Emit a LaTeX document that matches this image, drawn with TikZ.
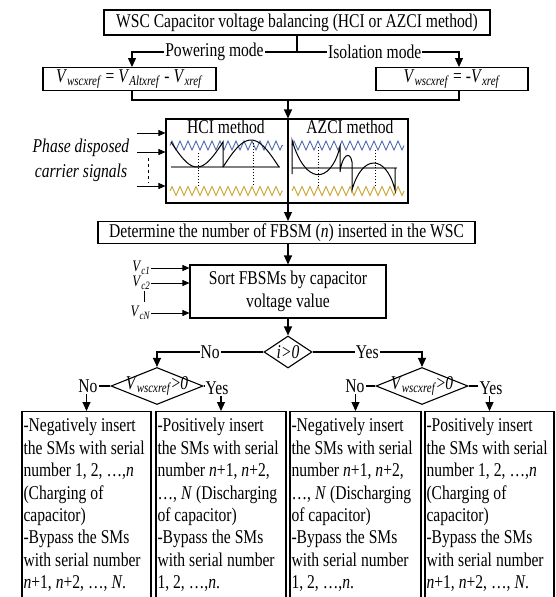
\documentclass[tikz,border=0pt]{standalone}
\usepackage{fontspec}
\setmainfont[FakeStretch=0.8]{Liberation Serif}
\usetikzlibrary{arrows.meta,shapes.geometric,decorations.pathmorphing}
\definecolor{carblue}{RGB}{75,105,170}
\definecolor{cargold}{RGB}{200,160,40}
\newcommand{\Vsub}[1]{\textit{V}\textsubscript{\textit{#1}}}
\newcommand{\boxfont}{\fontsize{19.5}{22.4}\selectfont\hyphenpenalty 10000\relax}
\newcommand{\tight}{\spaceskip 4pt plus 1pt minus 1pt\relax}
\begin{document}
\begin{tikzpicture}[x=1pt,y=-1pt,>={Triangle[length=9pt,width=8pt]},line width=1.1pt,
    font=\boxfont,
    blk/.style={draw,inner sep=2pt,align=center},
    txtbox/.style={draw,inner xsep=1.5pt,inner ysep=2pt,align=left,text width=#1,anchor=north,minimum height=187},
    dec/.style={draw,diamond,inner sep=0pt},
    lbl/.style={fill=white,inner sep=1pt},
    tri/.style={decorate,decoration={zigzag,segment length=8pt,amplitude=4.5pt},line width=0.9pt},
    small/.style={->,line width=0.9pt,>={Triangle[length=7pt,width=6pt]}},
    vin/.style={anchor=east,inner sep=0pt,font=\fontsize{16}{16}\selectfont}]
\useasboundingbox (0,0) rectangle (556,597);
% top and mode boxes
\node[blk,minimum width=386,minimum height=25] (top) at (297,22.5) {WSC Capacitor voltage balancing (HCI or AZCI method)};
\coordinate (spl) at (297,52);
\coordinate (pm) at (132,52);
\coordinate (iso) at (459,52);
\node[blk,minimum width=173,minimum height=22] (lbox) at (129.5,79) {\Vsub{wscxref} = \Vsub{Altxref} - \Vsub{xref}};
\node[blk,minimum width=152,minimum height=22] (rbox) at (452,79) {\Vsub{wscxref} = -\Vsub{xref}};
\draw (top.south) -- (spl);
\draw[->] (spl) -- node[lbl] {Powering mode} (pm) -- (pm |- lbox.north);
\draw[->] (spl) -- node[lbl,pos=0.48] {Isolation mode} (iso) -- (iso |- rbox.north);
\coordinate (ml) at (132,100);
\coordinate (mr) at (459,100);
\coordinate (mc) at (288,100);
\draw (ml |- lbox.south) -- (ml) -- (mr) -- (mr |- rbox.south);
% carrier signals
\node[draw,minimum width=242,minimum height=84,inner sep=0pt] (car) at (287,161) {};
\node (hci) at (226,127) {HCI method};
\node (azci) at (350,127) {AZCI method};
\draw[carblue,tri] (170,145.5) -- (283,145.5);
\draw[carblue,tri] (292,145.5) -- (404,145.5);
\draw[cargold,tri] (170,191) -- (283,191);
\draw[cargold,tri] (292,191) -- (404,191);
\draw[gray,line width=1.6pt] (171,167) -- (280,167);
\draw[gray,line width=1.6pt] (292,168) -- (397,168);
\draw[line width=1pt] plot[domain=0:180,samples=30] ({171+52*\x/180},{142+25*sin(\x)}) -- (223,167);
\draw[line width=1pt] plot[domain=0:180,samples=30] ({223+56*\x/180},{167-27*sin(\x)});
\draw[line width=1pt] (292,174) -- (292,140) .. controls (305,185) and (330,185) .. (340,147) -- (340,172)
    .. controls (342,155) and (350,150) .. (352,162) -- (352,190) .. controls (362,154) and (386,154) .. (395,190) -- (395,168);
\foreach \xd/\yd in {198/153,253/143,318/147,375/150}
    \draw[dotted,line width=0.9pt] (\xd,\yd) -- (\xd,186);
\draw[->] (mc) -- (mc |- car.north);
\node[align=center,font=\itshape\fontsize{19.5}{25}\selectfont] (pd) at (81,160) {Phase disposed\\carrier signals};
\foreach \ya in {133,152,186} {
    \coordinate (ca) at (137,\ya);
    \draw[small] (ca) -- (ca -| car.west);
}
\draw[dashed,line width=0.9pt] (148,158) -- (148,183);
% determine and sort
\node[blk,minimum width=377,minimum height=21] (det) at (286.5,232.5) {Determine the number of FBSM (\textit{n}) inserted in the WSC};
\draw[->] (mc |- car.north) -- (mc |- det.north);
\node[blk,minimum width=196,minimum height=53] (sort) at (288,291.5) {Sort FBSMs by capacitor\\voltage value};
\draw[->] (det.south -| mc) -- (sort.north -| mc);
\node[vin] (vc1) at (151,268) {\Vsub{c1}};
\node[vin] (vc2) at (151,283) {\Vsub{c2}};
\node[vin] (vcn) at (151,313) {\Vsub{cN}};
\foreach \v in {vc1,vc2,vcn}
    \draw[small] (\v.east) -- (\v.east -| sort.west);
\draw[line width=0.8pt] (144,291) -- (144,302);
% decisions
\node[dec,minimum width=48,minimum height=32,label=center:{\textit{i>0}}] (d1) at (288,352) {};
\draw[->] (sort.south -| d1) -- (d1.north);
\node[dec,minimum width=92,minimum height=37,label=center:{\Vsub{wscxref}>\textit{0}}] (d2) at (157,386) {};
\node[dec,minimum width=92,minimum height=37,label=center:{\Vsub{wscxref}>\textit{0}}] (d3) at (422,386) {};
\draw[->] (d1.west) -- node[lbl] {No} (d1.west -| d2) -- (d2.north);
\draw[->] (d1.east) -- node[lbl] {Yes} (d1.east -| d3) -- (d3.north);
\node[inner sep=1pt] (no2) at (88,386) {No};
\node[inner sep=1pt] (yes2) at (217,388) {Yes};
\node[inner sep=1pt] (no3) at (355,386) {No};
\node[inner sep=1pt] (yes3) at (491,388) {Yes};
\draw (d2.west) -- (no2.east);
\draw (d2.east) -- (d2.east -| yes2.west);
\draw (d3.west) -- (no3.east);
\draw (d3.east) -- (d3.east -| yes3.west);
% result boxes
\node[txtbox=126] (b1) at (86.5,411) {\tight -Negatively insert\\the SMs with serial\\number 1, 2, …,\textit{n}\\(Charging of\\capacitor)\\-Bypass the SMs\\with serial number\\\textit{n}+1, \textit{n}+2, …, \textit{N}.};
\node[txtbox=127] (b2) at (221,411) {\tight -Positively insert\\the SMs with serial\\number \textit{n}+1, \textit{n}+2,\\…, \textit{N} (Discharging\\of capacitor)\\-Bypass the SMs\\with serial number\\1, 2, …,\textit{n}.};
\node[txtbox=128] (b3) at (355.5,411) {\tight -Negatively insert\\the SMs with serial\\number \textit{n}+1, \textit{n}+2,\\…, \textit{N} (Discharging\\of capacitor)\\-Bypass the SMs\\with serial number\\1, 2, …,\textit{n}.};
\node[txtbox=126] (b4) at (489.5,411) {\tight -Positively insert\\the SMs with serial\\number 1, 2, …,\textit{n}\\(Charging of\\capacitor)\\-Bypass the SMs\\with serial number\\\textit{n}+1, \textit{n}+2, …, \textit{N}.};
\draw[->] (b1.north |- no2.south) -- (b1.north);
\draw[->] (b2.north |- yes2.south) -- (b2.north);
\draw[->] (b3.north |- no3.south) -- (b3.north);
\draw[->] (b4.north |- yes3.south) -- (b4.north);
\end{tikzpicture}
\end{document}
